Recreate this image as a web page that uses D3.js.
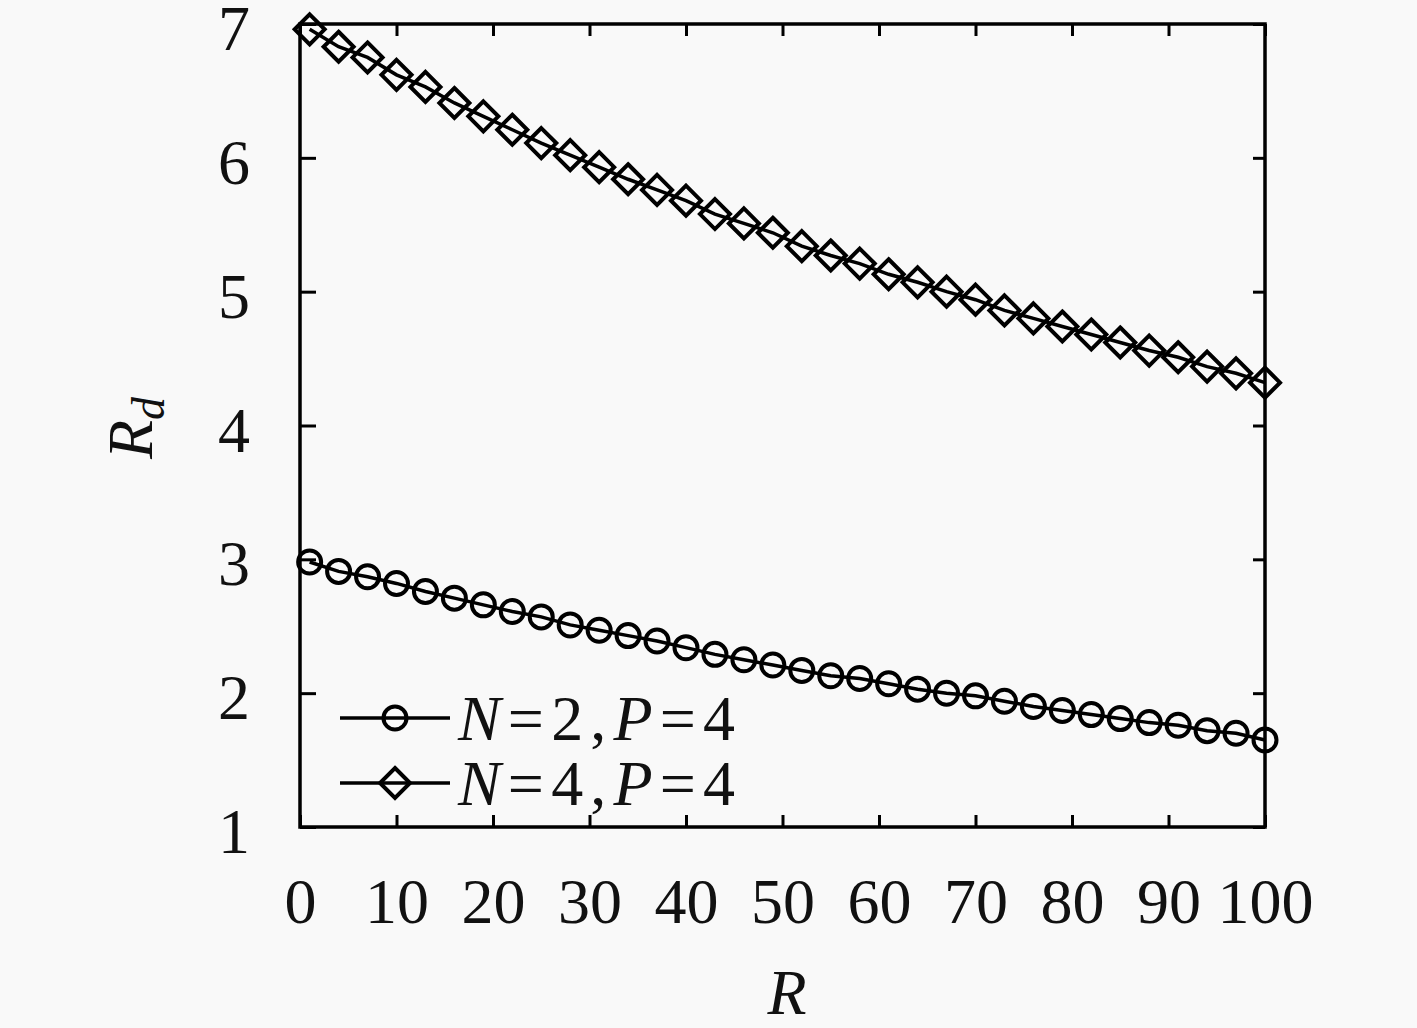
<!DOCTYPE html>
<html>
<head>
<meta charset="utf-8">
<script src="https://cdn.jsdelivr.net/npm/d3@7"></script>
<style>
  body { margin: 0; background: #f9f9f9; }
  svg { display: block; }
</style>
</head>
<body>
<svg></svg>
<script>

// R values (x) and the two Rd series
const rValues = [1, 4, 7, 10, 13, 16, 19, 22, 25, 28, 31, 34, 37, 40, 43, 46, 49,
    52, 55, 58, 61, 64, 67, 70, 73, 76, 79, 82, 85, 88, 91, 94, 97, 100];

const rdN2 = [2.98, 2.91, 2.87, 2.82, 2.76, 2.71, 2.66, 2.61, 2.57, 2.51, 2.47, 2.43, 2.39, 2.34, 2.29, 2.25, 2.21,
    2.17, 2.13, 2.11, 2.07, 2.03, 2.00, 1.98, 1.94, 1.90, 1.87, 1.84, 1.81, 1.78, 1.76, 1.72, 1.70, 1.65];

const rdN4 = [6.96, 6.83, 6.75, 6.62, 6.53, 6.41, 6.31, 6.21, 6.11, 6.02, 5.93, 5.84, 5.76, 5.68, 5.58, 5.51, 5.44,
    5.34, 5.27, 5.21, 5.13, 5.07, 5.00, 4.94, 4.86, 4.80, 4.74, 4.68, 4.62, 4.56, 4.51, 4.44, 4.39, 4.32];

const xTicks = [0, 10, 20, 30, 40, 50, 60, 70, 80, 90, 100];
const yTicks = [1, 2, 3, 4, 5, 6, 7];

const seriesLabels = ["N=2,P=4", "N=4,P=4"];
const seriesMarkers = ["circle", "diamond"];

const svgWidth = 1417;
const svgHeight = 1028;
const svg = d3.select("svg")
    .attr("width", svgWidth)
    .attr("height", svgHeight);

const margin = {top: 24, right: 152, bottom: 201, left: 300};
const width = svgWidth - margin.left - margin.right;
const height = svgHeight - margin.top - margin.bottom;

const font = "'Liberation Serif', 'Times New Roman', serif";

const g = svg.append("g")
    .attr("transform", "translate(" + margin.left + "," + margin.top + ")");

const x = d3.scaleLinear().domain([0, 100]).range([0, width]);
const y = d3.scaleLinear().domain([1, 7]).range([height, 0]);

// ticks on all four sides, pointing inward
function styleAxis(sel) {
    sel.select(".domain").remove();
    sel.selectAll(".tick line").attr("stroke", "#000").attr("stroke-width", 3);
    sel.selectAll(".tick text")
        .attr("font-family", font)
        .attr("font-size", 64)
        .attr("fill", "#111");
}

g.append("g")
    .attr("transform", "translate(0," + height + ")")
    .call(d3.axisBottom(x).tickValues(xTicks).tickFormat(d3.format("d"))
        .tickSizeInner(-12).tickSizeOuter(0).tickPadding(51))
    .call(styleAxis);

g.append("g")
    .call(d3.axisTop(x).tickValues(xTicks).tickSizeInner(-12).tickSizeOuter(0).tickFormat(""))
    .call(styleAxis);

g.append("g")
    .call(d3.axisLeft(y).tickValues(yTicks).tickFormat(d3.format("d"))
        .tickSizeInner(-16).tickSizeOuter(0).tickPadding(50))
    .call(styleAxis)
    .selectAll(".tick text").attr("dy", "0.4em");

g.append("g")
    .attr("transform", "translate(" + width + ",0)")
    .call(d3.axisRight(y).tickValues(yTicks).tickSizeInner(-12).tickSizeOuter(0).tickFormat(""))
    .call(styleAxis);

// frame
g.append("rect")
    .attr("width", width)
    .attr("height", height)
    .attr("fill", "none")
    .attr("stroke", "#000")
    .attr("stroke-width", 3.5);

// markers
const diamondPath = "M0,-15L15,0L0,15L-15,0Z";
function drawMarker(sel, kind) {
    if (kind === "circle") {
        sel.append("circle").attr("r", 11.5);
    } else {
        sel.append("path").attr("d", diamondPath);
    }
    sel.selectAll("circle, path")
        .attr("fill", "none")
        .attr("stroke", "#000")
        .attr("stroke-width", 4);
}

const line = d3.line()
    .x(d => x(d.r))
    .y(d => y(d.v));

[rdN2, rdN4].forEach((vals, i) => {
    const pts = rValues.map((r, j) => ({r: r, v: vals[j]}));

    g.append("path")
        .datum(pts)
        .attr("fill", "none")
        .attr("stroke", "#000")
        .attr("stroke-width", 3.5)
        .attr("d", line);

    g.append("g")
        .selectAll("g")
        .data(pts)
        .enter().append("g")
        .attr("transform", d => "translate(" + x(d.r) + "," + y(d.v) + ")")
        .each(function() { drawMarker(d3.select(this), seriesMarkers[i]); });
});

// legend (bottom left inside the plot)
const legend = svg.append("g")
    .selectAll("g")
    .data(seriesLabels)
    .enter().append("g")
    .attr("transform", (d, i) => "translate(340," + (718 + i * 65) + ")");

legend.append("line")
    .attr("x1", 0).attr("x2", 110)
    .attr("stroke", "#000")
    .attr("stroke-width", 3.5);

legend.append("g")
    .attr("transform", "translate(55,0)")
    .each(function(d, i) { drawMarker(d3.select(this), seriesMarkers[i]); });

const legendText = legend.append("text")
    .attr("x", 118)
    .attr("y", 22)
    .attr("font-family", font)
    .attr("font-size", 64)
    .attr("fill", "#111")
    .attr("textLength", 277)
    .attr("lengthAdjust", "spacing");

legendText.selectAll("tspan")
    .data(d => d.split(""))
    .enter().append("tspan")
    .attr("font-style", c => /[A-Za-z]/.test(c) ? "italic" : "normal")
    .text(c => c);

// axis titles
svg.append("text")
    .attr("x", 787)
    .attr("y", 1014)
    .attr("text-anchor", "middle")
    .attr("font-family", font)
    .attr("font-size", 64)
    .attr("font-style", "italic")
    .attr("fill", "#111")
    .text("R");

const yTitle = svg.append("text")
    .attr("transform", "translate(152,428) rotate(-90)")
    .attr("text-anchor", "middle")
    .attr("font-family", font)
    .attr("font-size", 64)
    .attr("fill", "#111");

yTitle.append("tspan")
    .attr("font-style", "italic")
    .text("R");

yTitle.append("tspan")
    .attr("font-style", "italic")
    .attr("font-size", 46)
    .attr("dy", 12)
    .text("d");

</script>
</body>
</html>
